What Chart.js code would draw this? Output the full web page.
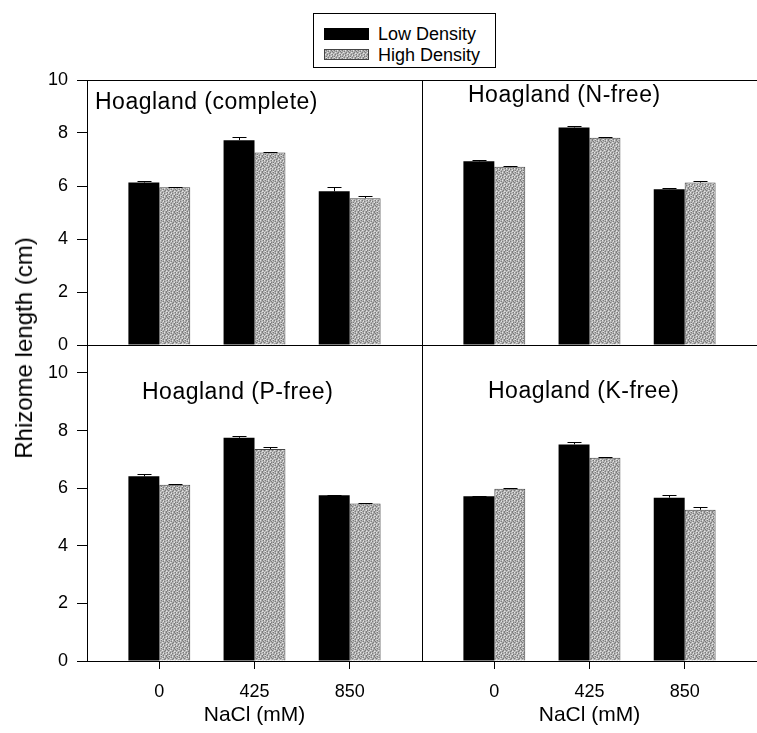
<!DOCTYPE html>
<html>
<head>
<meta charset="utf-8">
<script src="https://cdn.jsdelivr.net/npm/chart.js@4.4.1/dist/chart.umd.min.js"></script>
<style>
body{margin:0;background:#fff;}
#wrap{position:relative;width:757px;height:733px;overflow:hidden;background:#fff;font-family:'Liberation Sans',Arial,sans-serif;color:#000;}
canvas{position:absolute;}
#ylab{position:absolute;left:24px;top:348px;transform:translate(-50%,-50%) rotate(-90deg);font-size:24px;white-space:nowrap;}
#legend{position:absolute;left:313px;top:13px;width:181px;height:53px;border:1px solid #000;background:#fff;}
.sw{position:absolute;left:10px;width:45px;box-sizing:border-box;}
.lt{position:absolute;left:64px;font-size:18px;line-height:20px;white-space:nowrap;}
</style>
</head>
<body>
<div id="wrap">
  <canvas id="c1" width="422" height="305" style="left:0;top:60px"></canvas>
  <canvas id="c2" width="355" height="305" style="left:402px;top:60px"></canvas>
  <canvas id="c3" width="422" height="413" style="left:0;top:320px"></canvas>
  <canvas id="c4" width="355" height="413" style="left:402px;top:320px"></canvas>
  <div id="ylab">Rhizome length (cm)</div>
  <div id="legend">
    <div class="sw" style="top:14px;height:12px;background:#000"></div>
    <div class="lt" style="top:10px">Low Density</div>
    <div class="sw" id="graysw" style="top:35px;height:11px;border:1px solid #444"></div>
    <div class="lt" style="top:31px">High Density</div>
  </div>
</div>
<script>
// data
const categories = ['0', '425', '850'];
const yTicks = [0, 2, 4, 6, 8, 10];

const completeLow = [6.13, 7.73, 5.80];
const completeLowErr = [0.07, 0.12, 0.16];
const completeHigh = [5.95, 7.26, 5.54];
const completeHighErr = [0.03, 0.03, 0.10];

const nFreeLow = [6.93, 8.21, 5.88];
const nFreeLowErr = [0.06, 0.07, 0.03];
const nFreeHigh = [6.73, 7.82, 6.13];
const nFreeHighErr = [0.03, 0.03, 0.04];

const pFreeLow = [6.41, 7.75, 5.75];
const pFreeLowErr = [0.09, 0.06, 0.03];
const pFreeHigh = [6.12, 7.36, 5.47];
const pFreeHighErr = [0.02, 0.08, 0.03];

const kFreeLow = [5.72, 7.52, 5.67];
const kFreeLowErr = [0.02, 0.09, 0.08];
const kFreeHigh = [5.98, 7.06, 5.25];
const kFreeHighErr = [0.03, 0.03, 0.08];

Chart.defaults.font.family = "'Liberation Sans', Arial, sans-serif";
Chart.defaults.color = '#000';

// stippled gray fill like the scanned bars
function makeStipple() {
  const rows = [
    'mdlmwmdl',
    'lmmdlmmd',
    'dmwlmdlm',
    'mlmmdmwl',
    'wmdlmlmd',
    'lmmwdmlm',
    'mdlmmlwd',
    'lwmdlmdm'
  ];
  const shades = {d: '#7c7c7c', m: '#a8a8a8', l: '#c6c6c6', w: '#e4e4e4'};
  const c = document.createElement('canvas');
  c.width = 8; c.height = 8;
  const x = c.getContext('2d');
  rows.forEach((r, j) => {
    for (let i = 0; i < r.length; i++) {
      x.fillStyle = shades[r[i]];
      x.fillRect(i, j, 1, 1);
    }
  });
  return c;
}
const stippleCanvas = makeStipple();
const stipple = stippleCanvas.getContext('2d').createPattern(stippleCanvas, 'repeat');
document.getElementById('graysw').style.backgroundImage = `url(${stippleCanvas.toDataURL()})`;

const errorBars = {
  id: 'errorBars',
  afterDatasetsDraw(chart, args, opts) {
    const ctx = chart.ctx;
    const y = chart.scales.y;
    ctx.save();
    ctx.strokeStyle = '#000';
    ctx.lineWidth = 1;
    chart.data.datasets.forEach((ds, di) => {
      chart.getDatasetMeta(di).data.forEach((bar, i) => {
        const top = Math.round(y.getPixelForValue(ds.data[i].y + ds.err[i])) + 0.5;
        const bx = Math.round(bar.x) + 0.5;
        ctx.beginPath();
        ctx.moveTo(bx, bar.y);
        ctx.lineTo(bx, top);
        ctx.moveTo(bx - opts.cap, top);
        ctx.lineTo(bx + opts.cap, top);
        ctx.stroke();
      });
    });
    ctx.restore();
  }
};

const panelTitle = {
  id: 'panelTitle',
  afterDraw(chart, args, opts) {
    const ctx = chart.ctx;
    const a = chart.chartArea;
    ctx.save();
    if (opts.frameTop) {
      ctx.strokeStyle = '#000';
      ctx.lineWidth = 1;
      ctx.beginPath();
      ctx.moveTo(a.left, Math.round(a.top) + 0.5);
      ctx.lineTo(a.right, Math.round(a.top) + 0.5);
      ctx.stroke();
    }
    ctx.fillStyle = '#000';
    ctx.font = "23px 'Liberation Sans', Arial, sans-serif";
    ctx.letterSpacing = '0.5px';
    ctx.textBaseline = 'middle';
    ctx.textAlign = 'left';
    ctx.fillText(opts.text, a.left + opts.dx, a.top + opts.dy);
    ctx.restore();
  }
};

function toPoints(vals) {
  return vals.map((v, i) => ({x: i, y: v}));
}

function panel(id, title, low, lowErr, high, highErr, p) {
  new Chart(document.getElementById(id), {
    type: 'bar',
    data: {
      datasets: [
        {label: 'Low Density', data: toPoints(low), err: lowErr,
         backgroundColor: '#000', borderWidth: 0},
        {label: 'High Density', data: toPoints(high), err: highErr,
         backgroundColor: stipple, borderColor: '#444', borderWidth: 1, borderSkipped: 'bottom'}
      ]
    },
    options: {
      responsive: false,
      animation: false,
      layout: {padding: {top: p.padTop, bottom: p.padBottom, left: 0, right: 0}},
      datasets: {bar: {barPercentage: 1, categoryPercentage: 0.65}},
      scales: {
        x: {
          type: 'linear',
          min: -0.76,
          max: 2.76,
          offset: false,
          afterBuildTicks: s => { s.ticks = categories.map((c, i) => ({value: i})); },
          afterFit: s => { s.height = p.xHeight; },
          grid: {display: true, offset: false, drawOnChartArea: false, drawTicks: p.xLabels, tickLength: 8, color: '#000'},
          border: {display: true, color: '#000', width: 1},
          ticks: {display: p.xLabels, padding: 12, font: {size: 18}, autoSkip: false, maxRotation: 0,
                  callback: v => categories[v]},
          title: {display: p.xLabels, text: 'NaCl (mM)', font: {size: 21}, padding: {top: 0, bottom: 5}}
        },
        y: {
          min: 0,
          max: p.yMax,
          afterBuildTicks: s => { s.ticks = yTicks.map(v => ({value: v})); },
          afterFit: s => { s.width = p.yWidth; },
          grid: {display: true, drawOnChartArea: false, drawTicks: p.yLabels, tickLength: 10, color: '#000'},
          border: {display: true, color: '#000', width: 1},
          ticks: {display: p.yLabels, padding: 9, font: {size: 18}}
        }
      },
      plugins: {
        legend: {display: false},
        tooltip: {enabled: false},
        errorBars: {cap: 7},
        panelTitle: {text: title, dx: p.dx, dy: p.dy, frameTop: p.frameTop}
      }
    },
    plugins: [errorBars, panelTitle]
  });
}

panel('c1', 'Hoagland (complete)', completeLow, completeLowErr, completeHigh, completeHighErr,
  {padTop: 20, padBottom: 20, xHeight: 0, yWidth: 87, yMax: 10, xLabels: false, yLabels: true, dx: 8, dy: 23, frameTop: true});
panel('c2', 'Hoagland (N-free)', nFreeLow, nFreeLowErr, nFreeHigh, nFreeHighErr,
  {padTop: 20, padBottom: 20, xHeight: 0, yWidth: 20, yMax: 10, xLabels: false, yLabels: false, dx: 46, dy: 16, frameTop: true});
panel('c3', 'Hoagland (P-free)', pFreeLow, pFreeLowErr, pFreeHigh, pFreeHighErr,
  {padTop: 25, padBottom: 0, xHeight: 72, yWidth: 87, yMax: 10.97, xLabels: true, yLabels: true, dx: 55, dy: 48, frameTop: false});
panel('c4', 'Hoagland (K-free)', kFreeLow, kFreeLowErr, kFreeHigh, kFreeHighErr,
  {padTop: 25, padBottom: 0, xHeight: 72, yWidth: 20, yMax: 10.97, xLabels: true, yLabels: false, dx: 66, dy: 47, frameTop: false});
</script>
</body>
</html>
